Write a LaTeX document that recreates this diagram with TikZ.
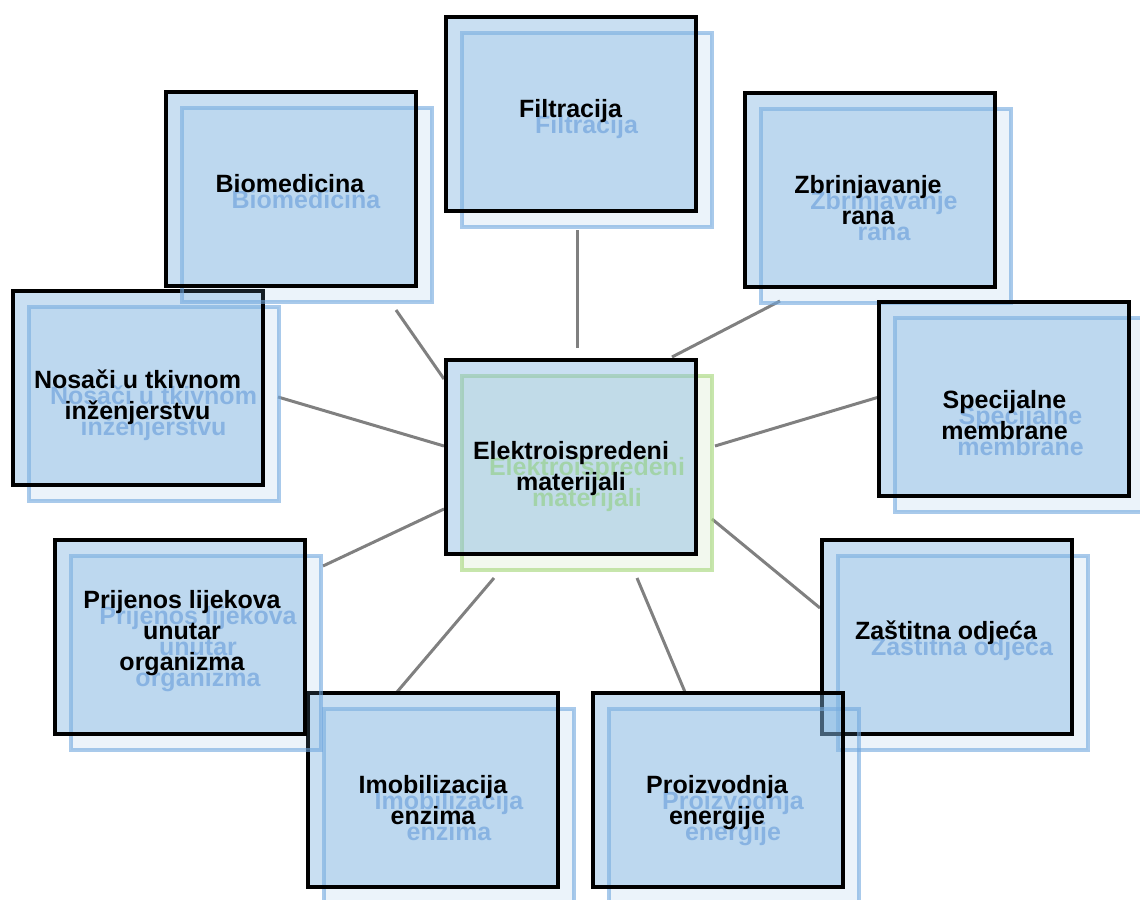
\documentclass[tikz,border=0pt]{standalone}
\usepackage{fontspec}
\setmainfont{Liberation Sans}
\definecolor{frontblue}{HTML}{81B5E1}
\definecolor{backline}{HTML}{6FA6DE}
\definecolor{backtxt}{HTML}{8FB3E3}
\definecolor{greenfill}{HTML}{A9D18E}
\definecolor{greenline}{HTML}{A9D880}
\definecolor{greentxt}{HTML}{BDEB80}
\definecolor{linegray}{HTML}{808080}
\tikzset{
  frontbox/.style={draw=black, line width=3pt, fill=frontblue, fill opacity=0.43, draw opacity=1,
    minimum width=187.5pt, minimum height=145.5pt, inner sep=0pt, outer sep=0pt},
  backbox/.style={draw=backline, draw opacity=0.6, line width=3pt, fill=frontblue, fill opacity=0.16,
    minimum width=187.5pt, minimum height=145.5pt, inner sep=0pt, outer sep=0pt},
  greenbox/.style={backbox, draw=greenline, draw opacity=0.65, fill=greenfill, fill opacity=0.15},
  txt/.style={anchor=base, inner sep=0pt, outer sep=0pt, font=\bfseries\fontsize{18.75}{23.25}\selectfont},
  fronttext/.style={txt, text=black},
  backtext/.style={txt, text=backtxt},
  greentext/.style={txt, text=greentxt},
  conn/.style={draw=linegray, line width=2.25pt},
}
\newcommand\rsbox[6]{%
  \node[backbox] (#1b) at (#2+16,#3+16) {};
  \node[backtext] (#1bt) at (#4+16,#5+16) {\begin{tabular}[t]{@{}c@{}}#6\end{tabular}};
  \node[frontbox] (#1) at (#2,#3) {};
  \node[fronttext] (#1t) at (#4,#5) {\begin{tabular}[t]{@{}c@{}}#6\end{tabular}};
}
\begin{document}
\begin{tikzpicture}[x=0.75pt,y=-0.75pt]
  \useasboundingbox (0,0) rectangle (1140,900);
  \clip (0,0) rectangle (1140,900);
  % connector end points
  \coordinate (cF) at (577,348);   \coordinate (oF) at (577,230);
  \coordinate (cZ) at (672,357);   \coordinate (oZ) at (780,301);
  \coordinate (cS) at (715,446);   \coordinate (oS) at (879,397);
  \coordinate (cO) at (712,519);   \coordinate (oO) at (820,608);
  \coordinate (cP) at (637,578);   \coordinate (oP) at (685,692);
  \coordinate (cI) at (494,578);   \coordinate (oI) at (397,692);
  \coordinate (cL) at (444,509);   \coordinate (oL) at (323,566);
  \coordinate (cN) at (444,446);   \coordinate (oN) at (278,397);
  \coordinate (cB) at (444,379);   \coordinate (oB) at (396,310);
  \foreach \k in {F,Z,S,O,P,I,L,N,B} { \draw[conn] (c\k) -- (o\k); }

  % centre
  \node[greenbox] (centerb) at (587,473) {};
  \node[greentext] (centerbt) at (587,475) {\begin{tabular}[t]{@{}c@{}}Elektroispredeni\\materijali\end{tabular}};
  \node[frontbox] (center) at (571,457) {};
  \node[fronttext] (centert) at (571,459) {\begin{tabular}[t]{@{}c@{}}Elektroispredeni\\materijali\end{tabular}};

  % satellites
  \rsbox{filt}{571}{114}{570.5}{117}{Filtracija}
  \rsbox{zbr}{869.5}{189.5}{868}{193}{Zbrinjavanje\\rana}
  \rsbox{spec}{1004}{399}{1004.5}{408}{Specijalne\\membrane}
  \rsbox{zast}{947}{637}{946}{639}{Zaštitna odjeća}
  \rsbox{proiz}{718}{790}{717}{793}{Proizvodnja\\energije}
  \rsbox{imob}{433}{790}{433}{793}{Imobilizacija\\enzima}
  \rsbox{prij}{180}{637}{182}{608}{Prijenos lijekova\\unutar\\organizma}
  \rsbox{nos}{137.5}{388}{137.5}{388}{Nosači u tkivnom\\inženjerstvu}
  \rsbox{bio}{291}{188.5}{290}{192}{Biomedicina}
\end{tikzpicture}
\end{document}
